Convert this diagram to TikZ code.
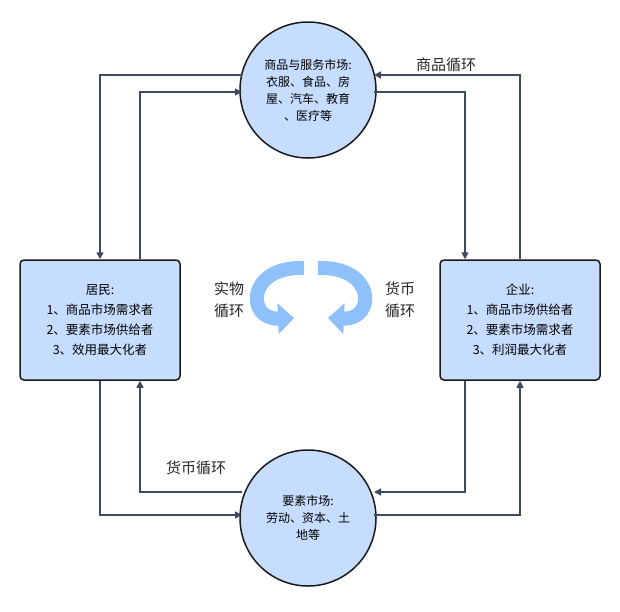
\documentclass[tikz,border=0pt]{standalone}
\usepackage{fontspec}
\newfontfamily\cjk{Noto Sans CJK SC}
\usetikzlibrary{arrows.meta}
\definecolor{fillb}{HTML}{C6DDFF}
\definecolor{lnc}{HTML}{3E4A5E}
\definecolor{icb}{HTML}{8EC0FA}
\begin{document}
\begin{tikzpicture}[x=1pt,y=-1pt,
  font=\cjk\fontsize{12}{17}\selectfont,
  lnk/.style={draw=lnc,line width=1.5pt,-{Triangle[length=7pt,width=7pt]}},
  mkt/.style={circle,draw=black!90,line width=1.5pt,fill=fillb,minimum size=136pt,inner sep=0pt,align=center},
  agent/.style={draw=black!90,line width=1.5pt,rounded corners=4pt,fill=fillb,minimum width=160pt,minimum height=120pt,align=center,font=\cjk\fontsize{12.5}{20}\selectfont},
  icon/.style={draw=icb,line width=14pt,-{Triangle[length=16pt,width=30pt]}},
  lbl/.style={font=\cjk\fontsize{15}{22}\selectfont,align=center,text=black!85}]
\useasboundingbox (0,0) rectangle (620,611);
\node[mkt] (top) at (308,90) {商品与服务市场:\\衣服、食品、房\\屋、汽车、教育\\、医疗等};
\node[mkt] (bot) at (308,518) {要素市场:\\劳动、资本、土\\地等};
\node[agent] (L) at (100,320) {居民:\\1、商品市场需求者\\2、要素市场供给者\\3、效用最大化者};
\node[agent] (R) at (520,320) {企业:\\1、商品市场供给者\\2、要素市场需求者\\3、利润最大化者};
\coordinate (tl1) at (242,75); \coordinate (tl2) at (242,92);
\coordinate (tr1) at (374,75); \coordinate (tr2) at (374,92);
\coordinate (bl1) at (242,492); \coordinate (bl2) at (242,515);
\coordinate (br1) at (374,492); \coordinate (br2) at (374,515);
\draw[lnk] (tl1) -- (100,75) -- (L.north-|100,0);
\draw[lnk] (L.north-|140,0) -- (140,92) -- (tl2);
\draw[lnk] (tr2) -- (465,92) -- (R.north-|465,0);
\draw[lnk] (R.north-|520,0) -- (520,75) -- (tr1);
\draw[lnk] (L.south-|100,0) -- (100,515) -- (bl2);
\draw[lnk] (bl1) -- (140,492) -- (L.south-|140,0);
\draw[lnk] (R.south-|465,0) -- (465,492) -- (br1);
\draw[lnk] (br2) -- (520,515) -- (R.south-|520,0);
\node[lbl] (g1) at (446,65) {商品循环};
\node[lbl] (g2) at (196,468) {货币循环};
\node[lbl] (c1) at (229,300) {实物\\循环};
\node[lbl] (c2) at (400,300) {货币\\循环};
\draw[icon] (304,268) .. controls (246,266) and (246,320) .. (294,318);
\draw[icon] (318,268) .. controls (376,266) and (376,320) .. (328,318);
\end{tikzpicture}
\end{document}
